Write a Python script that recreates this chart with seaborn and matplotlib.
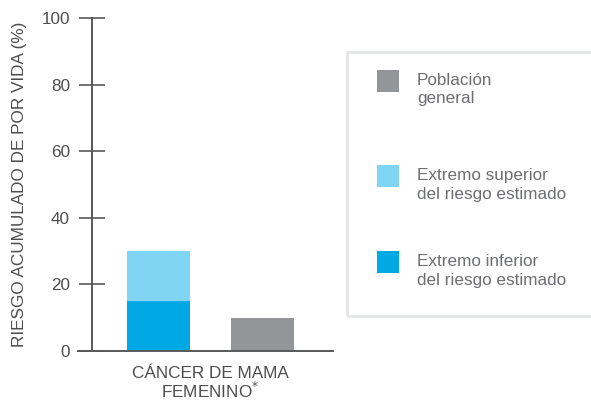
import pandas as pd
import seaborn as sns
import matplotlib.pyplot as plt
from matplotlib.patches import Rectangle

# datos
categorias = ["CÁNCER DE MAMA\nFEMENINO$^{*}$"]
grupos = ["Riesgo estimado", "Población general"]
extremo_superior = [30, 10]
extremo_inferior = [15, 0]
leyenda = ["Población\ngeneral", "Extremo superior\ndel riesgo estimado", "Extremo inferior\ndel riesgo estimado"]
ylabel = "RIESGO ACUMULADO DE POR VIDA (%)"
yticks = [0, 20, 40, 60, 80, 100]

azul = "#00a9e4"
celeste = "#80d4f4"
gris = "#939598"
eje = "#58595b"
texto = "#4d4d4f"

sns.set_style("white")
plt.rcParams['font.family'] = ['Liberation Sans', 'DejaVu Sans']

W, H = 591, 405
fig = plt.figure(figsize=(W / 100, H / 100), dpi=100)
ax = fig.add_axes([78 / W, (H - 351) / H, (333 - 78) / W, (351 - 18) / H])

df_sup = pd.DataFrame({'cat': categorias * 2, 'grupo': grupos, 'valor': extremo_superior})
df_inf = pd.DataFrame({'cat': categorias * 2, 'grupo': grupos, 'valor': extremo_inferior})

sns.barplot(data=df_sup, x='cat', y='valor', hue='grupo', palette=[celeste, gris],
            width=0.8, gap=0.394, saturation=1, legend=False, linewidth=0, ax=ax)
sns.barplot(data=df_inf, x='cat', y='valor', hue='grupo', palette=[azul, gris],
            width=0.8, gap=0.394, saturation=1, legend=False, linewidth=0, ax=ax)

# 0.8 unidades = 208 px
ux = 208 / 0.8
ax.set_xlim(-(210.5 - 78) / ux, (333 - 210.5) / ux)
ax.set_ylim(0, 100)
ax.set_yticks(yticks)

for s in ['top', 'right']:
    ax.spines[s].set_visible(False)
ax.spines['left'].set_position(('axes', (92 - 78) / (333 - 78)))
for s in ['left', 'bottom']:
    ax.spines[s].set_color(eje)
    ax.spines[s].set_linewidth(1.4)

ax.tick_params(axis='y', left=True, direction='inout', length=26 * 0.72, width=1.2, color=eje,
               pad=6.5, labelsize=12.3, labelcolor=texto)
ax.tick_params(axis='x', length=0, pad=11, labelsize=12.3, labelcolor=texto)
for t in ax.get_xticklabels():
    t.set_linespacing(0.95)

ax.set_xlabel("")
ax.set_ylabel(ylabel, fontsize=12.3, color=texto)
ax.yaxis.set_label_coords((27 - 78) / 255, 0.5)

# leyenda
fig.add_artist(Rectangle((347 / W, (H - 316) / H), (620 - 347) / W, (316 - 52) / H,
                         transform=fig.transFigure, facecolor='none',
                         edgecolor='#e6e7e8', linewidth=2.2))
colores_ley = [gris, celeste, azul]
cuadros_y = [70, 165, 251]
base_y = [85, 180, 266]
for col, cy, by, lab in zip(colores_ley, cuadros_y, base_y, leyenda):
    fig.add_artist(Rectangle((377 / W, (H - cy - 22) / H), 22 / W, 22 / H,
                             transform=fig.transFigure, facecolor=col, edgecolor='none'))
    for i, linea in enumerate(lab.split("\n")):
        fig.text(417 / W, (H - by - i * 18.5) / H, linea, fontsize=12.3,
                 color='#6d6e71', va='baseline', ha='left')

fig.savefig("out.png", dpi=100)
